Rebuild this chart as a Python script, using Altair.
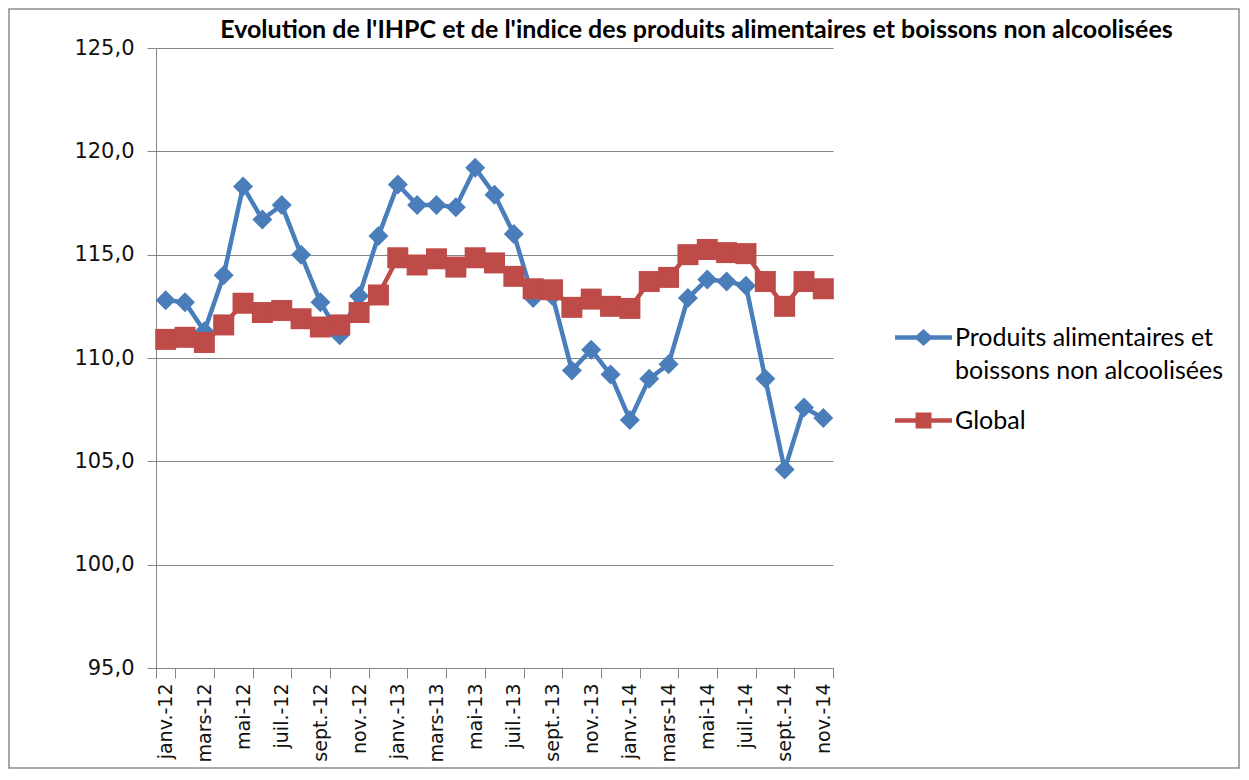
import altair as alt
import pandas as pd

months = [
    "janv.-12", "févr.-12", "mars-12", "avr.-12", "mai-12", "juin-12",
    "juil.-12", "août-12", "sept.-12", "oct.-12", "nov.-12", "déc.-12",
    "janv.-13", "févr.-13", "mars-13", "avr.-13", "mai-13", "juin-13",
    "juil.-13", "août-13", "sept.-13", "oct.-13", "nov.-13", "déc.-13",
    "janv.-14", "févr.-14", "mars-14", "avr.-14", "mai-14", "juin-14",
    "juil.-14", "août-14", "sept.-14", "oct.-14", "nov.-14",
]
food = [
    112.8, 112.7, 111.3, 114.0, 118.3, 116.7,
    117.4, 115.0, 112.7, 111.1, 113.0, 115.9,
    118.4, 117.4, 117.4, 117.3, 119.2, 117.9,
    116.0, 112.9, 113.0, 109.4, 110.4, 109.2,
    107.0, 109.0, 109.7, 112.9, 113.8, 113.7,
    113.5, 109.0, 104.6, 107.6, 107.1,
]
overall = [
    110.9, 111.0, 110.75, 111.6, 112.65, 112.2,
    112.3, 111.9, 111.5, 111.6, 112.2, 113.05,
    114.85, 114.5, 114.8, 114.4, 114.85, 114.6,
    113.95, 113.35, 113.3, 112.45, 112.85, 112.5,
    112.4, 113.7, 113.9, 115.0, 115.25, 115.1,
    115.05, 113.7, 112.5, 113.7, 113.35,
]
y_ticks = [95, 100, 105, 110, 115, 120, 125]

S_FOOD = "Produits alimentaires et boissons non alcoolisées"
S_GLOBAL = "Global"
series = [S_FOOD, S_GLOBAL]
BLUE = "#4A7EBB"
RED = "#BE4B48"
GRID = "#868686"

rows = []
for m, a, g in zip(months, food, overall):
    rows.append({"mois": m, "serie": S_FOOD, "valeur": a})
    rows.append({"mois": m, "serie": S_GLOBAL, "valeur": g})
df = pd.DataFrame(rows)

W, H = 677, 620
PL, PT, PR, PB = 148, 40, 408, 102

x_enc = alt.X(
    "mois:N", sort=months, bandPosition=0.5, title=None,
    scale=alt.Scale(type="band", paddingInner=0, paddingOuter=0),
    axis=alt.Axis(
        values=months[::2], tickBand="extent", labelAngle=270,
        labelFont="DejaVu Sans", labelFontSize=19, labelColor="#111111",
        tickSize=10, tickColor=GRID, domainColor=GRID, labelPadding=5,
        grid=False, labelOverlap=False,
    ),
)
y_enc = alt.Y(
    "valeur:Q", title=None,
    scale=alt.Scale(domain=[95, 125], nice=False, zero=False),
    axis=alt.Axis(
        values=y_ticks, labelExpr="replace(format(datum.value, '.1f'), '.', ',')",
        labelFont="DejaVu Sans", labelFontSize=21, labelColor="#111111",
        tickSize=9, tickColor=GRID, domainColor=GRID, labelPadding=13,
        grid=True, gridColor=GRID, gridWidth=1,
    ),
)

base = alt.Chart(df).encode(x=x_enc, y=y_enc)
food_df = base.transform_filter(alt.datum.serie == S_FOOD)
glob_df = base.transform_filter(alt.datum.serie == S_GLOBAL)

blue_line = food_df.mark_line(color=BLUE, strokeWidth=4.5)
blue_pts = food_df.mark_point(shape="diamond", filled=True, size=400, color=BLUE, opacity=1)
red_line = glob_df.mark_line(color=RED, strokeWidth=4.5)
red_pts = glob_df.mark_point(shape="square", filled=True, size=441, color=RED, opacity=1)

path_food = "M-1,-0.08H1V0.08H-1Z M-0.33,0L0,-0.3L0.33,0L0,0.3Z"
path_glob = "M-1,-0.08H1V0.08H-1Z M-0.28,-0.28H0.28V0.28H-0.28Z"

legend_cfg = dict(
    orient="none", legendX=739, legendY=261, title=None,
    symbolSize=3249, symbolStrokeWidth=0, symbolOpacity=1,
    labelFont="Lato", labelFontSize=25, labelColor="#000000",
    labelOffset=3, labelLimit=500, rowPadding=8,
    labelExpr="datum.label == 'Global' ? datum.label : ['Produits alimentaires et', 'boissons non alcoolisées']",
)
legend_layer = alt.Chart(df).transform_filter("false").mark_point(filled=True, opacity=1).encode(
    color=alt.Color("serie:N", scale=alt.Scale(domain=series, range=[BLUE, RED]),
                    legend=alt.Legend(**legend_cfg)),
    shape=alt.Shape("serie:N", scale=alt.Scale(domain=series, range=[path_food, path_glob]),
                    legend=alt.Legend(**legend_cfg)),
)

frame = alt.Chart(pd.DataFrame({"k": [0]})).mark_rect(
    fill=None, stroke="#8c8c8c", strokeWidth=1.5
).encode(
    x=alt.value(-PL + 1), x2=alt.value(W + PR - 2),
    y=alt.value(-PT + 1), y2=alt.value(H + PB - 2),
)

chart = alt.layer(
    frame, blue_line, blue_pts, red_line, red_pts, legend_layer
).properties(
    width=W, height=H,
    padding={"left": PL, "top": PT, "right": PR, "bottom": PB},
    autosize=alt.AutoSizeParams(type="none"),
    title=alt.TitleParams(
        "Evolution de l'IHPC et de l'indice des produits alimentaires et boissons non alcoolisées",
        font="Lato", fontSize=25, fontWeight="bold", color="#000000",
        anchor="middle", frame="group", dx=202, offset=-55, baseline="alphabetic",
    ),
).configure(
    background="white",
    view=alt.ViewConfig(stroke=None),
    style={"guide-label": {"lineHeight": 33}},
)

chart.save("out.html", embed_options={"renderer": "svg", "actions": False})
